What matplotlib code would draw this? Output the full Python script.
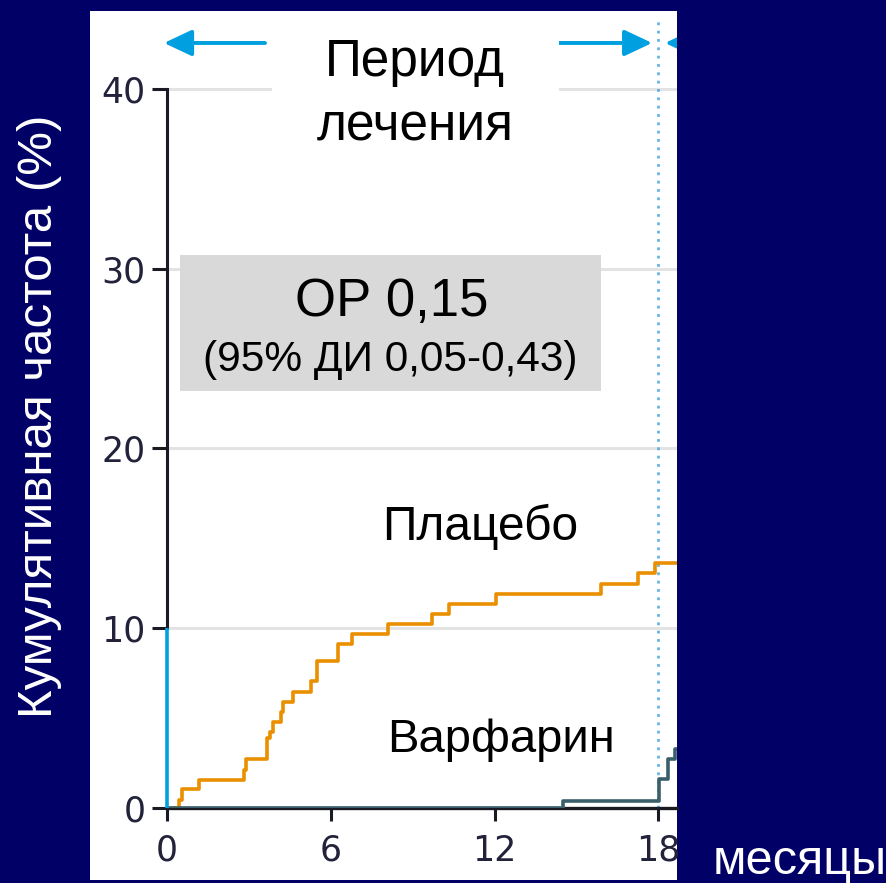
import matplotlib
matplotlib.use("Agg")
import matplotlib.pyplot as plt
import numpy as np
from matplotlib.patches import Rectangle, FancyArrowPatch

W, H = 887, 883
NAVY = "#000066"; BLUE = "#00a0e0"; ORANGE = "#e98f00"; GREYLINE = "#3b5e6b"
GRID = "#e3e3e3"; BOX = "#d9d9d9"; TICKC = "#22223a"
FONT = ["Liberation Sans", "DejaVu Sans"]

# cumulative incidence (%), step changes at these months
placebo_month = [0, 0.44, 0.54, 1.17, 2.82, 2.89, 3.65, 3.77, 3.87, 4.16, 4.26, 4.63,
                 5.26, 5.51, 6.27, 6.77, 8.11, 9.72, 10.34, 12.05, 15.89, 17.25, 17.88]
placebo_pct = [0, 0.42, 1.07, 1.58, 2.14, 2.74, 3.88, 4.25, 4.8, 5.36, 5.92, 6.47,
               7.05, 8.2, 9.1, 9.7, 10.25, 10.8, 11.35, 11.9, 12.45, 13.05, 13.6]
warf_month = [0, 14.52, 18.02, 18.36, 18.61]
warf_pct = [0, 0.38, 1.6, 2.7, 3.3]
xticks = [0, 6, 12, 18]
yticks = [0, 10, 20, 30, 40]
TREAT_END = 18
XMAX, YMAX = 18.68, 44.27

def fx(px): return px / W
def fy(py): return 1 - py / H

fig = plt.figure(figsize=(W / 100, H / 100), dpi=100, facecolor=NAVY)
fig.patches.append(Rectangle((fx(90), fy(880)), fx(677) - fx(90), fy(11) - fy(880),
                             transform=fig.transFigure, fc="white", ec="none", zorder=-1))
ax = fig.add_axes([fx(167), fy(808), fx(677) - fx(167), fy(12) - fy(808)])
ax.set_xlim(0, XMAX); ax.set_ylim(0, YMAX)

for v in yticks[1:]:
    ax.axhline(v, color=GRID, lw=2.2, zorder=0.5)

ax.step(np.append(placebo_month, XMAX), np.append(placebo_pct, placebo_pct[-1]),
        where="post", color=ORANGE, lw=2.6, zorder=3)
ax.step(np.append(warf_month, XMAX), np.append(warf_pct, warf_pct[-1]),
        where="post", color=GREYLINE, lw=2.6, zorder=3)

ax.axvline(TREAT_END, ymax=(808 - 21) / 796, color="#4aa8e0", lw=2.0, ls=(0, (1, 2)),
           alpha=0.85, zorder=1)

# spines: black above 10 %, blue 0-10 %
for sp in ("top", "right"):
    ax.spines[sp].set_visible(False)
ax.spines["left"].set_bounds(10, 40)
ax.spines["left"].set_linewidth(2.2)
ax.spines["bottom"].set_linewidth(2.4)
ax.spines["left"].set_color("#1a1a22"); ax.spines["bottom"].set_color("#1a1a22")
ax.plot([0, 0], [0, 10], color=BLUE, lw=2.6, clip_on=False, zorder=4, solid_capstyle="butt")

ax.set_xticks(xticks); ax.set_yticks(yticks)
ax.tick_params(axis="y", length=10.8, width=2.2, pad=4.5, labelsize=25, labelcolor=TICKC, color="#1a1a22")
ax.tick_params(axis="x", length=9.5, width=2.2, pad=9, labelsize=25, labelcolor=TICKC, color="#1a1a22")
for t, v in zip(ax.yaxis.get_major_ticks(), yticks):
    if v <= 10:
        t.tick1line.set_color(BLUE)
for lab in ax.get_xticklabels() + ax.get_yticklabels():
    lab.set_family("DejaVu Sans")

# treatment period arrows
ay = (808 - 43) / 17.98
arrows = [((3.59, ay), (-0.11, ay), False), ((14.36, ay), (17.77, ay), False),
          ((19.5, ay), (18.24, ay), True)]
for a, b, clip in arrows:
    p = FancyArrowPatch(a, b, arrowstyle="-|>,head_length=0.85,head_width=0.4", mutation_scale=20,
                        color=BLUE, lw=2.8, zorder=4, shrinkA=0, shrinkB=0)
    ax.add_patch(p)
    p.set_clip_on(clip)

# white backing behind the period label (hides the 40 % gridline)
ax.add_patch(Rectangle((fx(272), fy(165)), fx(559) - fx(272), fy(14) - fy(165),
                       transform=fig.transFigure, fc="white", ec="none", zorder=4.5))
fig.text(fx(415), fy(95), "Период\nлечения", ha="center", va="center", fontsize=37,
         family=FONT, linespacing=1.4, zorder=5)

ax.add_patch(Rectangle((fx(180), fy(391)), fx(601) - fx(180), fy(255) - fy(391),
                       transform=fig.transFigure, fc=BOX, ec="none", zorder=4))
fig.text(fx(392), fy(316), "ОР 0,15", ha="center", va="baseline", fontsize=38, family=FONT, zorder=6)
fig.text(fx(390), fy(371), "(95% ДИ 0,05-0,43)", ha="center", va="baseline", fontsize=30.5,
         family=FONT, zorder=6)
fig.text(fx(480), fy(540), "Плацебо", ha="center", va="baseline", fontsize=34.5, family=FONT)
fig.text(fx(501), fy(752), "Варфарин", ha="center", va="baseline", fontsize=34, family=FONT)
fig.text(fx(800), fy(874), "месяцы", ha="center", va="baseline", fontsize=35, family=FONT, color="white")
fig.text(fx(40), fy(416), "Кумулятивная частота (%)", rotation=90, ha="center", va="center",
         fontsize=35.5, family=FONT, color="white")

fig.savefig("out.png", dpi=100, facecolor=NAVY)
